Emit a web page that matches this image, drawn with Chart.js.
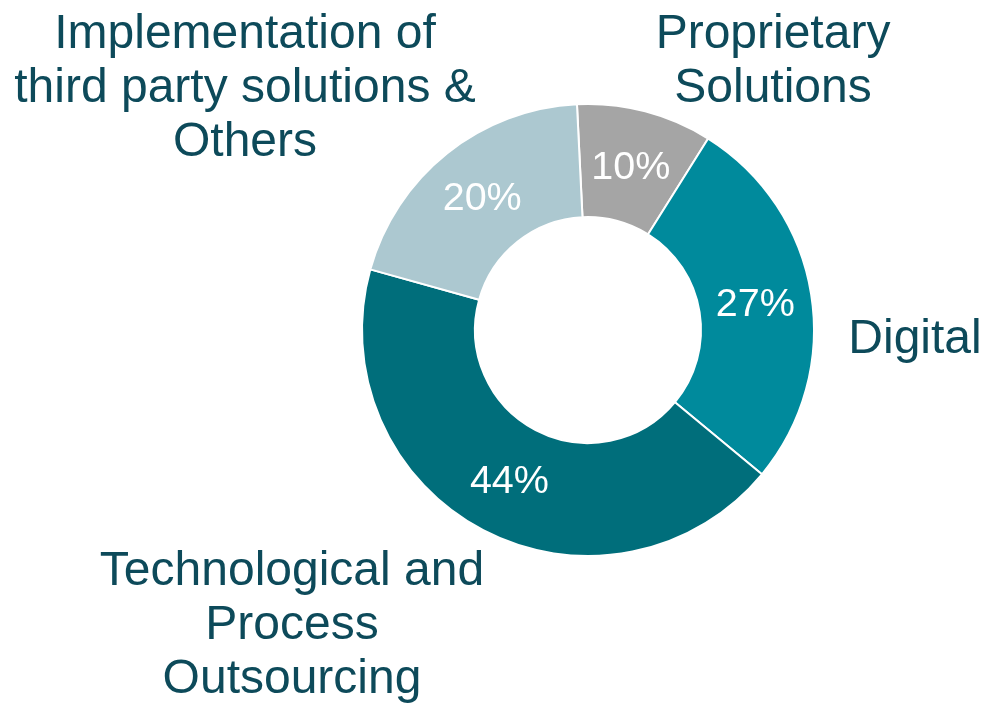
<!DOCTYPE html>
<html>
<head>
<meta charset="utf-8">
<script src="https://cdn.jsdelivr.net/npm/chart.js@4/dist/chart.umd.min.js"></script>
<style>
  html, body { margin: 0; padding: 0; background: #ffffff; }
  #wrap { width: 987px; height: 704px; position: relative; }
</style>
</head>
<body>
<div id="wrap"><canvas id="c" width="987" height="704"></canvas></div>
<script>
// ---- Data ----
const categories = [
  ["Proprietary", "Solutions"],
  ["Digital"],
  ["Technological and", "Process", "Outsourcing"],
  ["Implementation of", "third party solutions &", "Others"]
];
const shares = [9.7, 27.1, 43.3, 19.9];
const percentLabels = ["10%", "27%", "44%", "20%"];
const sliceColors = ["#A5A5A5", "#008A9C", "#006E7B", "#ACC8D0"];

const TEXT_COLOR = "#0D4A5A";
const FONT = "'Liberation Sans', Arial, 'Helvetica Neue', sans-serif";

// label block centres relative to doughnut centre, by category index
const labelOffsets = [
  { dx: 185, dy: -270 },
  { dx: 327, dy: 8 },
  { dx: -296, dy: 294 },
  { dx: -343, dy: -243 }
];

const labelsPlugin = {
  id: 'sliceLabels',
  afterDatasetsDraw(chart) {
    const ctx = chart.ctx;
    const meta = chart.getDatasetMeta(0);
    ctx.save();
    ctx.textAlign = 'center';
    ctx.textBaseline = 'middle';
    // percentage labels inside slices
    ctx.font = "39.5px " + FONT;
    ctx.fillStyle = "#ffffff";
    meta.data.forEach((arc, i) => {
      const p = arc.tooltipPosition();
      ctx.fillText(percentLabels[i], p.x, p.y + 2);
    });
    // category labels outside
    const arc0 = meta.data[0];
    const cx = arc0.x, cy = arc0.y;
    ctx.font = "48px " + FONT;
    ctx.fillStyle = TEXT_COLOR;
    const lh = 54;
    categories.forEach((lines, i) => {
      const o = labelOffsets[i];
      const x = cx + o.dx, y = cy + o.dy;
      const startY = y - (lines.length - 1) * lh / 2;
      lines.forEach((t, k) => ctx.fillText(t, x, startY + k * lh + 2));
    });
    ctx.restore();
  }
};

new Chart(document.getElementById('c'), {
  type: 'doughnut',
  data: {
    labels: categories.map(l => l.join(' ')),
    datasets: [{
      data: shares,
      backgroundColor: sliceColors,
      borderColor: '#ffffff',
      borderWidth: 2,
      hoverBorderWidth: 2,
      hoverOffset: 0
    }]
  },
  options: {
    responsive: false,
    animation: false,
    events: [],
    cutout: '50%',
    rotation: -2.8,
    layout: { padding: { left: 361, right: 172, top: 103, bottom: 147 } },
    plugins: {
      legend: { display: false },
      tooltip: { enabled: false }
    }
  },
  plugins: [labelsPlugin]
});
</script>
</body>
</html>
